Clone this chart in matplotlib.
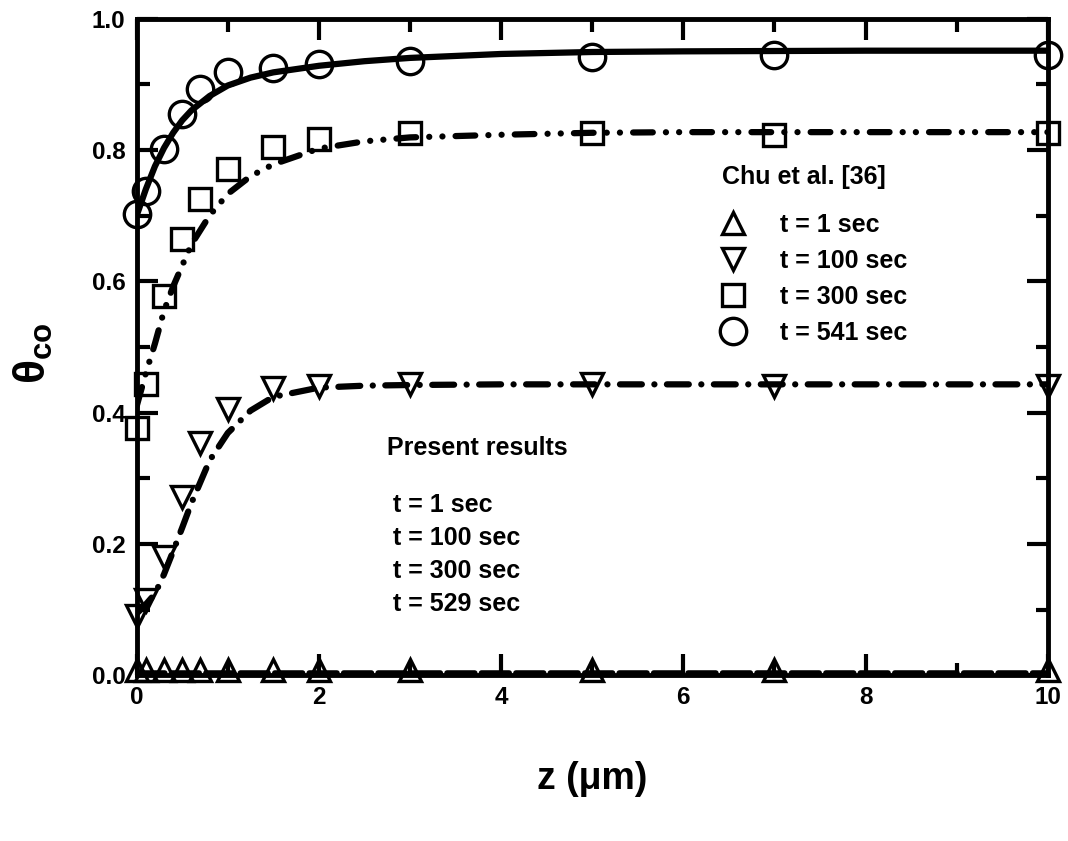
import numpy as np
import matplotlib
matplotlib.use('Agg')
import matplotlib.pyplot as plt

plt.rcParams['font.family'] = ['Liberation Sans', 'DejaVu Sans']
plt.rcParams['font.weight'] = 'bold'
plt.rcParams['mathtext.fontset'] = 'custom'
plt.rcParams['mathtext.rm'] = 'Liberation Sans'
plt.rcParams['mathtext.bf'] = 'Liberation Sans:bold'

# Chu et al. [36] data points
z_chu = [0, 0.1, 0.3, 0.5, 0.7, 1.0, 1.5, 2, 3, 5, 7, 10]
chu_1 = [0.008, 0.008, 0.008, 0.008, 0.008, 0.008, 0.008, 0.008, 0.008, 0.008, 0.008, 0.008]
chu_100 = [0.090, 0.114, 0.180, 0.271, 0.353, 0.406, 0.437, 0.441, 0.444, 0.444, 0.441, 0.441]
chu_300 = [0.376, 0.444, 0.578, 0.665, 0.725, 0.771, 0.804, 0.817, 0.825, 0.825, 0.822, 0.825]
chu_541 = [0.703, 0.738, 0.802, 0.855, 0.893, 0.918, 0.925, 0.931, 0.936, 0.942, 0.944, 0.945]

# present results (model curves)
z_mod = [0, 0.1, 0.2, 0.3, 0.4, 0.5, 0.6, 0.8, 1.0, 1.25, 1.5, 2.0, 2.5, 3, 4, 5, 6, 8, 10]
mod_1 = [0.004, 0.004, 0.004, 0.004, 0.004, 0.004, 0.004, 0.004, 0.004, 0.004,
         0.004, 0.004, 0.004, 0.004, 0.004, 0.004, 0.004, 0.004, 0.004]
mod_100 = [0.094, 0.108, 0.124, 0.154, 0.189, 0.225, 0.262, 0.327, 0.369, 0.403,
           0.424, 0.438, 0.441, 0.442, 0.443, 0.443, 0.443, 0.443, 0.443]
mod_300 = [0.410, 0.460, 0.505, 0.555, 0.592, 0.624, 0.656, 0.700, 0.733, 0.760,
           0.778, 0.802, 0.813, 0.819, 0.823, 0.826, 0.827, 0.827, 0.827]
mod_529 = [0.700, 0.740, 0.775, 0.803, 0.826, 0.845, 0.860, 0.882, 0.898, 0.910,
           0.918, 0.928, 0.935, 0.940, 0.946, 0.949, 0.950, 0.951, 0.951]

chu_labels = ['t = 1 sec', 't = 100 sec', 't = 300 sec', 't = 541 sec']
mod_labels = ['t = 1 sec', 't = 100 sec', 't = 300 sec', 't = 529 sec']


def main():
    fig = plt.figure(figsize=(10.68, 8.41), dpi=100)
    ax = fig.add_axes([0.128, 0.197, 0.853, 0.781])

    lw = 4.5
    l1, = ax.plot(z_mod, mod_1, 'k', lw=4, dashes=(5, 1.2), dash_capstyle='round')
    l2, = ax.plot(z_mod, mod_100, 'k', lw=lw, dashes=(3.5, 2.0, 0.01, 2.0),
                  dash_capstyle='round')
    l3, = ax.plot(z_mod, mod_300, 'k', lw=lw,
                  dashes=(3.15, 2.1, 0.01, 2.1, 0.01, 2.1), dash_capstyle='round')
    l4, = ax.plot(z_mod, mod_529, 'k', lw=lw, solid_capstyle='round')

    mk = dict(color='k', ls='none', mfc='none', mew=2.4, clip_on=False, zorder=3)
    p1, = ax.plot(z_chu, chu_1, marker='^', ms=16.5, **mk)
    p2, = ax.plot(z_chu, chu_100, marker='v', ms=16.5, **mk)
    p3, = ax.plot(z_chu, chu_300, marker='s', ms=15.5, **mk)
    p4, = ax.plot(z_chu, chu_541, marker='o', ms=19, **mk)

    ax.set_xlim(0, 10)
    ax.set_ylim(0, 1.0)
    ax.set_xticks([0, 2, 4, 6, 8, 10])
    ax.set_xticks([1, 3, 5, 7, 9], minor=True)
    ax.set_yticks([0.0, 0.2, 0.4, 0.6, 0.8, 1.0])
    ax.set_yticks([0.1, 0.3, 0.5, 0.7, 0.9], minor=True)
    ax.set_yticklabels(['0.0', '0.2', '0.4', '0.6', '0.8', '1.0'])
    ax.tick_params(which='both', direction='in', top=True, right=True,
                   width=3, labelsize=17.5, pad=8)
    ax.tick_params(which='major', length=15)
    ax.tick_params(which='minor', length=9)
    for s in ax.spines.values():
        s.set_linewidth(3.5)

    ax.set_xlabel('z (μm)', fontsize=27, fontweight='bold')
    ax.xaxis.set_label_coords(0.5, -0.13)
    ax.set_ylabel(r'$\mathrm{\theta}_{\mathbf{co}}$', fontsize=32)
    ax.yaxis.set_label_coords(-0.09, 0.49)

    ax.text(0.642, 0.758, 'Chu et al. [36]', transform=ax.transAxes,
            fontsize=18, va='center', ha='left')
    leg1 = ax.legend([p1, p2, p3, p4], chu_labels, loc='upper left',
                     bbox_to_anchor=(0.642, 0.704), frameon=False, borderpad=0,
                     borderaxespad=0, fontsize=18, handlelength=0.9,
                     handletextpad=1.45, labelspacing=0.48)
    ax.add_artist(leg1)

    ax.text(0.2744, 0.3455, 'Present results', transform=ax.transAxes,
            fontsize=18, va='center', ha='left')
    leg2 = ax.legend([l1, l2, l3, l4], mod_labels, loc='upper left',
                     bbox_to_anchor=(0.281, 0.277), frameon=False, borderpad=0,
                     borderaxespad=0, fontsize=18, handlelength=0,
                     handletextpad=0, labelspacing=0.35)
    for h in leg2.legend_handles:
        h.set_visible(False)

    fig.savefig('out.png', dpi=100)


if __name__ == "__main__":
    main()
